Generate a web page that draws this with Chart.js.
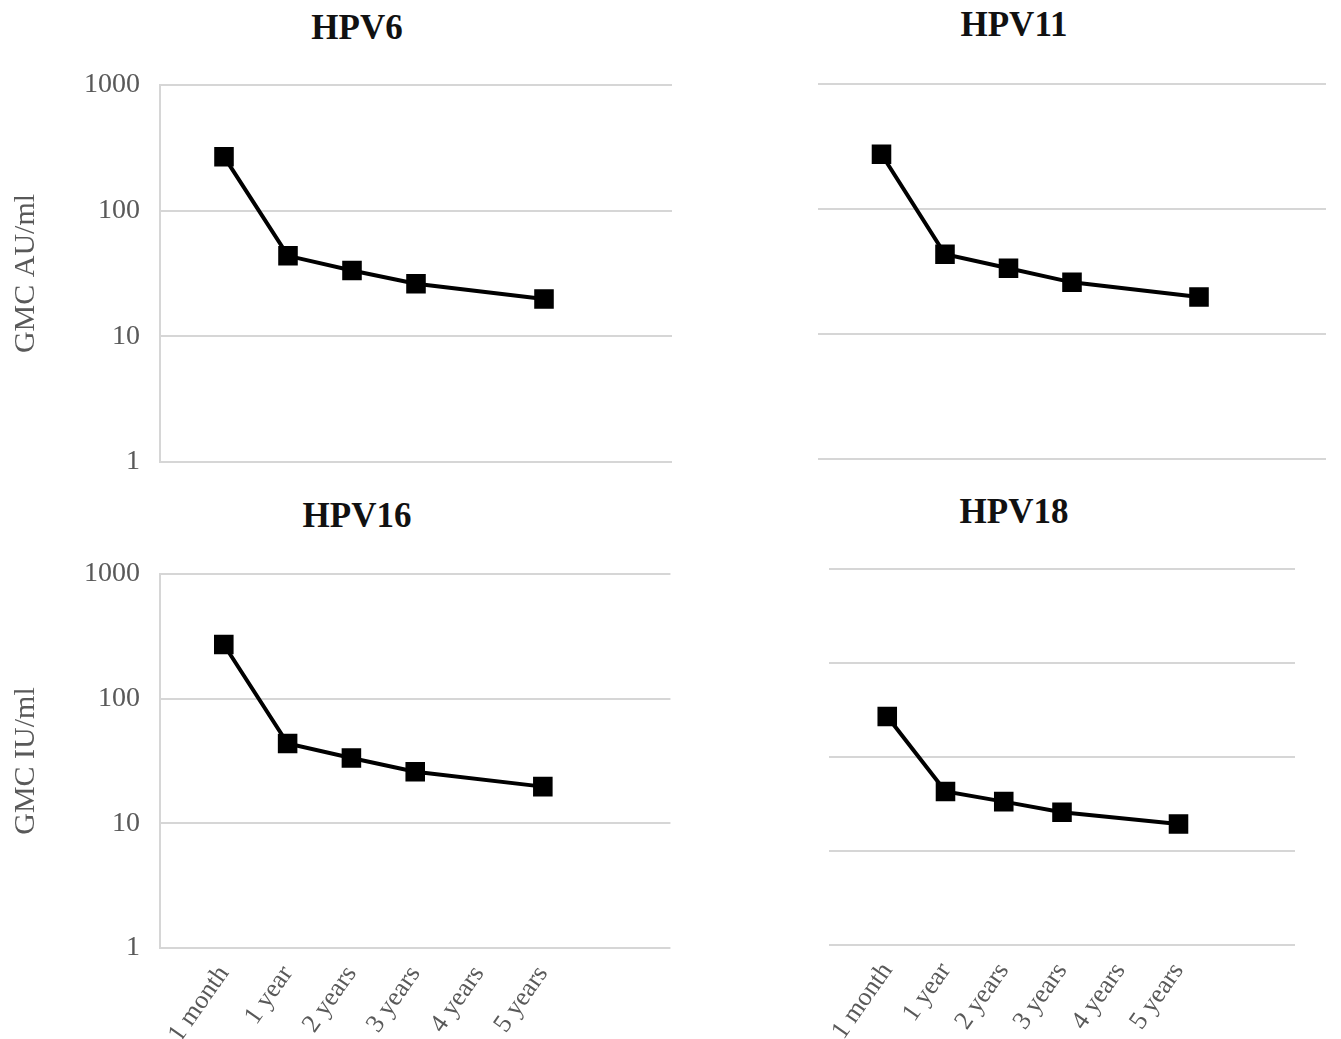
<!DOCTYPE html>
<html>
<head>
<meta charset="utf-8">
<script src="https://cdn.jsdelivr.net/npm/chart.js@4.4.1/dist/chart.umd.min.js"></script>
<style>
  html, body { margin: 0; padding: 0; background: #fff; }
  body { width: 1341px; height: 1039px; position: relative; overflow: hidden; }
  .panel { position: absolute; }
  .ttl {
    position: absolute; width: 300px; margin-left: -150px; text-align: center;
    font-family: "Liberation Serif", "DejaVu Serif", serif; font-weight: bold;
    font-size: 35px; color: #111; line-height: 40px;
  }
</style>
</head>
<body>
<div class="ttl" style="left:357px; top:8px;">HPV6</div>
<div class="ttl" style="left:1014px; top:5px;">HPV11</div>
<div class="ttl" style="left:357px; top:496px;">HPV16</div>
<div class="ttl" style="left:1014px; top:492px;">HPV18</div>

<div class="panel" style="left:0; top:50px; width:700px; height:446px;"><canvas id="c6"></canvas></div>
<div class="panel" style="left:700px; top:50px; width:641px; height:430px;"><canvas id="c11"></canvas></div>
<div class="panel" style="left:0; top:540px; width:700px; height:499px;"><canvas id="c16"></canvas></div>
<div class="panel" style="left:700px; top:540px; width:641px; height:499px;"><canvas id="c18"></canvas></div>

<script>
// time points after vaccination (4 years: no measurement)
const timepoints = ['1 month', '1 year', '2 years', '3 years', '4 years', '5 years'];
const hpv6 = [269, 43.7, 33.4, 26.2, null, 19.8];
const hpv11 = [274, 43.4, 33.6, 25.9, null, 19.8];
const hpv16 = [272, 43.7, 33.4, 25.9, null, 19.7];
const hpv18 = [270, 43, 33.5, 25.8, null, 19.4];
const ticksLeft = [1, 10, 100, 1000];
const ticksRight18 = [1, 10, 100, 1000, 10000];

const SERIF = '"Liberation Serif", "DejaVu Serif", serif';
const GRID = '#d6d6d6';
const TEXT = '#595959';

// blank slot before the first and two after the last, like the original axis
const labels = [''].concat(timepoints, ['', '']);

function makeChart(id, cfg) {
  const data = [null].concat(cfg.values, [null, null]);
  new Chart(document.getElementById(id), {
    type: 'line',
    data: {
      labels: labels,
      datasets: [{
        data: data,
        borderColor: '#000',
        backgroundColor: '#000',
        borderWidth: 4,
        pointStyle: 'rect',
        pointRadius: 11,
        pointHoverRadius: 11,
        spanGaps: true,
        tension: 0
      }]
    },
    options: {
      responsive: true,
      maintainAspectRatio: false,
      animation: false,
      layout: { padding: { top: cfg.padTop, right: cfg.padRight, left: 0, bottom: 0 } },
      plugins: { legend: { display: false }, tooltip: { enabled: false } },
      scales: {
        x: {
          type: 'category',
          offset: false,
          grid: { display: false },
          border: { display: false },
          ticks: {
            display: cfg.showX,
            autoSkip: false,
            minRotation: 55,
            maxRotation: 55,
            padding: 4,
            color: TEXT,
            font: { family: SERIF, size: 26 }
          },
          afterFit: s => { s.height = cfg.xh; }
        },
        y: {
          type: 'logarithmic',
          min: cfg.ticks[0],
          max: cfg.ticks[cfg.ticks.length - 1],
          afterBuildTicks: s => { s.ticks = cfg.ticks.map(v => ({ value: v })); },
          grid: { color: GRID, lineWidth: 2, drawTicks: false },
          border: { display: cfg.showY, color: GRID, width: 2 },
          ticks: {
            display: cfg.showY,
            padding: 20,
            color: TEXT,
            font: { family: SERIF, size: 28, lineHeight: 1 },
            callback: v => String(v)
          },
          title: {
            display: !!cfg.yTitle,
            text: cfg.yTitle || '',
            color: TEXT,
            font: { family: SERIF, size: 30 },
            padding: { top: 8, bottom: 0 }
          },
          afterFit: s => { s.width = cfg.yw; }
        }
      }
    }
  });
}

makeChart('c6',  { values: hpv6,  ticks: ticksLeft, showX: false, showY: true,  yTitle: 'GMC AU/ml', yw: 160, xh: 20, padTop: 35, padRight: 28 });
makeChart('c11', { values: hpv11, ticks: ticksLeft, showX: false, showY: false, yw: 118, xh: 21, padTop: 34, padRight: 5 });
makeChart('c16', { values: hpv16, ticks: ticksLeft, showX: true,  showY: true,  yTitle: 'GMC IU/ml', yw: 160, xh: 91, padTop: 33, padRight: 28 });
makeChart('c18', { values: hpv18, ticks: ticksRight18, showX: true, showY: false, yw: 129, xh: 94, padTop: 29, padRight: 46 });
</script>
</body>
</html>
